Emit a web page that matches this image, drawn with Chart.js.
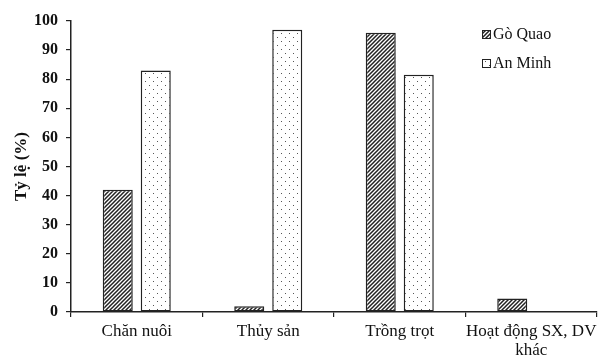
<!DOCTYPE html>
<html>
<head>
<meta charset="utf-8">
<script src="https://cdn.jsdelivr.net/npm/chart.js@4"></script>
<style>
  html, body { margin: 0; padding: 0; background: #fff; }
  #wrap { width: 606px; height: 362px; }
</style>
</head>
<body>
<div id="wrap"><canvas id="chart" width="606" height="362"></canvas></div>
<script>
// Data
const categories = ['Chăn nuôi', 'Thủy sản', 'Trồng trọt', ['Hoạt động SX, DV', 'khác']];
const seriesNames = ['Gò Quao', 'An Minh'];
const goQuao = [42, 2, 96, 4.6];
const anMinh = [83, 97, 81.5, 0];
const yTicks = [0, 10, 20, 30, 40, 50, 60, 70, 80, 90, 100];

const SERIF = "'Liberation Serif', 'Times New Roman', serif";

const ctx = document.getElementById('chart').getContext('2d');

// Diagonal hatch fill
function makeHatch() {
    const c = document.createElement('canvas');
    c.width = 4; c.height = 4;
    const g = c.getContext('2d');
    g.fillStyle = '#fff';
    g.fillRect(0, 0, 4, 4);
    g.strokeStyle = '#222';
    g.lineWidth = 1.5;
    g.beginPath();
    g.moveTo(-1, 5); g.lineTo(5, -1);
    g.moveTo(-1, 1); g.lineTo(1, -1);
    g.moveTo(3, 5); g.lineTo(5, 3);
    g.stroke();
    return ctx.createPattern(c, 'repeat');
}

// Dotted fill
function makeDots() {
    const c = document.createElement('canvas');
    c.width = 8; c.height = 8;
    const g = c.getContext('2d');
    g.fillStyle = '#fff';
    g.fillRect(0, 0, 8, 8);
    g.fillStyle = '#555';
    g.fillRect(1, 1, 1, 1);
    g.fillRect(5, 5, 1, 1);
    return ctx.createPattern(c, 'repeat');
}

// Legend drawn inside the plot, top right, stacked
const insideLegend = {
    id: 'insideLegend',
    afterDraw(chart) {
        const g = chart.ctx;
        const area = chart.chartArea;
        const x = area.right - 115;
        let y = area.top + 13;
        g.save();
        g.font = '16px ' + SERIF;
        g.textBaseline = 'middle';
        chart.data.datasets.forEach(ds => {
            g.fillStyle = ds.backgroundColor;
            g.fillRect(x, y - 4, 8, 8);
            g.strokeStyle = '#222';
            g.lineWidth = 1;
            g.strokeRect(x + 0.5, y - 3.5, 8, 8);
            g.fillStyle = '#111';
            g.fillText(ds.label, x + 11, y + 1);
            y += 29;
        });
        g.restore();
    }
};

// no outline for empty bars
const barBorder = c => (c.raw === 0 ? 0 : 1.5);

new Chart(ctx, {
    type: 'bar',
    data: {
        labels: categories,
        datasets: [{
            label: seriesNames[0],
            data: goQuao,
            backgroundColor: makeHatch(),
            borderColor: '#222',
            borderWidth: barBorder,
            borderSkipped: false,
            categoryPercentage: 0.578,
            barPercentage: 0.79
        }, {
            label: seriesNames[1],
            data: anMinh,
            backgroundColor: makeDots(),
            borderColor: '#222',
            borderWidth: barBorder,
            borderSkipped: false,
            categoryPercentage: 0.578,
            barPercentage: 0.79
        }]
    },
    options: {
        responsive: false,
        animation: false,
        layout: {
            padding: { left: 0, right: 9, top: 21, bottom: 0 }
        },
        plugins: {
            legend: { display: false },
            tooltip: { enabled: false }
        },
        scales: {
            x: {
                grid: {
                    offset: true,
                    drawOnChartArea: false,
                    drawTicks: true,
                    tickLength: 5,
                    color: '#222',
                    lineWidth: 1.2
                },
                border: { display: true, color: '#222', width: 1.5 },
                ticks: {
                    color: '#111',
                    font: { family: SERIF, size: 17, lineHeight: 1.1 },
                    padding: 5,
                    maxRotation: 0,
                    autoSkip: false
                },
                afterFit: s => { s.height = 50; }
            },
            y: {
                min: 0,
                max: 100,
                afterBuildTicks: s => { s.ticks = yTicks.map(v => ({ value: v })); },
                grid: {
                    drawOnChartArea: false,
                    drawTicks: true,
                    tickLength: 5,
                    color: '#222',
                    lineWidth: 1.2
                },
                border: { display: true, color: '#222', width: 1.5 },
                ticks: {
                    color: '#111',
                    font: { family: SERIF, size: 16, weight: 'bold' },
                    padding: 8
                },
                title: {
                    display: true,
                    text: 'Tỷ lệ (%)',
                    color: '#111',
                    font: { family: SERIF, size: 17, weight: 'bold' },
                    padding: { top: 11, bottom: 0 }
                },
                afterFit: s => { s.width = 71; }
            }
        }
    },
    plugins: [insideLegend]
});
</script>
</body>
</html>
